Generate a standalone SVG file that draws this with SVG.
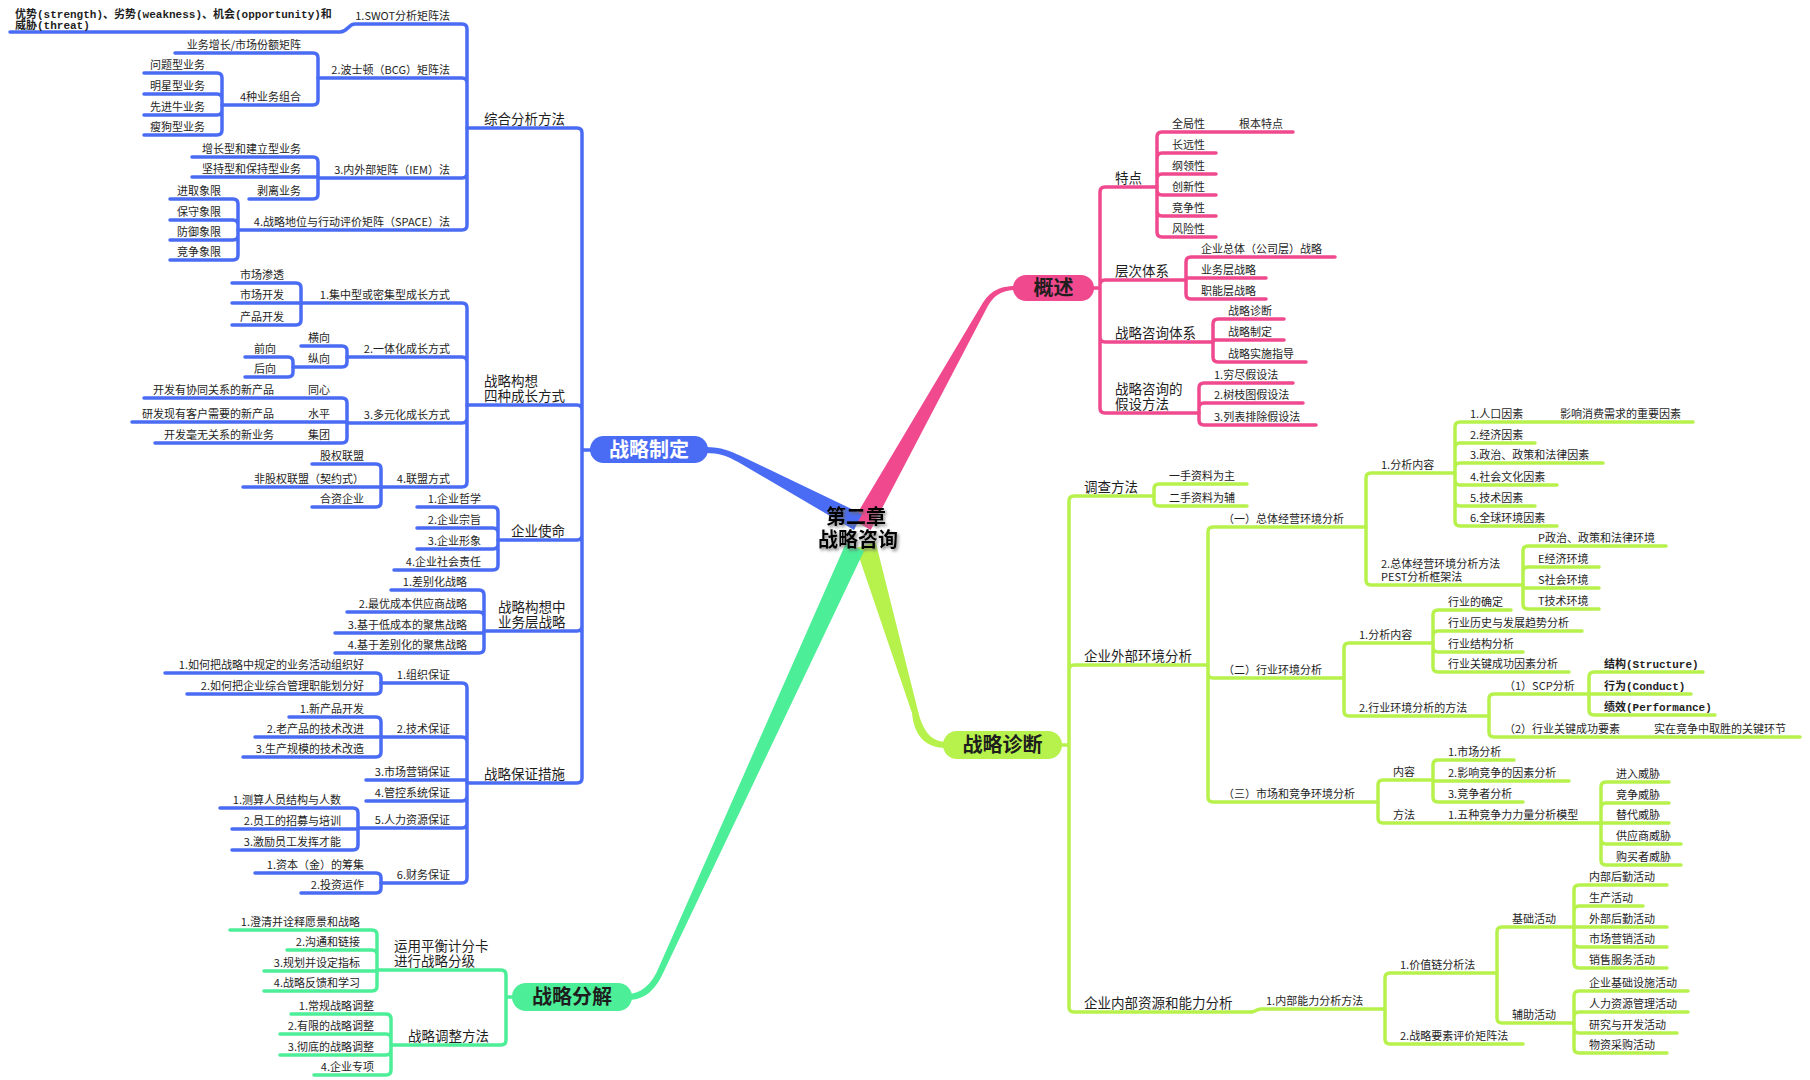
<svg xmlns="http://www.w3.org/2000/svg" width="1810" height="1080" viewBox="0 0 1810 1080">
<defs>
<style>
.b{fill:none;stroke:#4a6cf4;stroke-width:3.5;stroke-linecap:round;stroke-linejoin:round}
.p{fill:none;stroke:#f0498e;stroke-width:3.5;stroke-linecap:round;stroke-linejoin:round}
.l{fill:none;stroke:#b6f14c;stroke-width:3.5;stroke-linecap:round;stroke-linejoin:round}
.g{fill:none;stroke:#4cee98;stroke-width:3.5;stroke-linecap:round;stroke-linejoin:round}
text{font-family:"Noto Sans CJK SC","Noto Sans",sans-serif;fill:#1e1e1e;font-size:11px}
.t2{font-size:13.5px}
.r{text-anchor:end}
.hb{font-weight:bold;font-family:"Liberation Mono","Noto Sans CJK SC",monospace}
.pl{font-size:20px;font-weight:bold;text-anchor:middle}
.ct{font-size:20px;font-weight:bold;text-anchor:middle;fill:#000}
</style>
<filter id="sh" x="-20%" y="-40%" width="140%" height="180%">
<feDropShadow dx="1.5" dy="2" stdDeviation="1.5" flood-color="#666" flood-opacity="0.8"/>
</filter>
</defs>
<rect width="1810" height="1080" fill="#fff"/>
<g id="connectors">
<path fill="#f0498e" d="M1016 286 C998 286,990 292,982.4 303.5 L853.3 520.1 L870.7 529.9 L987.6 306.5 C993 297,1000 290,1016 290 Z"/>
<path fill="#4a6cf4" d="M705 447 C722 447,730 451,741 456 L862 514 L854 530 L738 462 C727 456,720 453,705 453 Z"/>
<path fill="#b6f14c" d="M856 548 L875.6 542 L918 711 C922 728,930 742,946 742 L946 748 C926 748,914 736,912 713 Z"/>
<path fill="#4cee98" d="M846 543 L864 551 L665 969 C656 990,645 1000,628 1000 L628 994 C640 994,652 985,659 967 Z"/>
<path class="b" d="M594,450 H582 M582,450 V133 Q582,128 577,128 H467 M582,450 V410 Q582,405 577,405 H467 M582,450 V535 Q582,540 577,540 H498 M582,450 V626 Q582,631 577,631 H484 M582,450 V778 Q582,783 577,783 H467"/>
<path class="b" d="M467,128 V29 Q467,24 462,24 H355 C348,24 348,32 340,32 H10 M467,128 V83 Q467,78 462,78 H318 M467,128 V173 Q467,178 462,178 H318 M467,128 V225 Q467,230 462,230 H238"/>
<path class="b" d="M318,78 V58 Q318,53 313,53 H175 M318,78 V100 Q318,105 313,105 H222"/>
<path class="b" d="M222,105 V78 Q222,73 217,73 H144 M222,105 V99 Q222,94 217,94 H144 M222,105 V110 Q222,115 217,115 H144 M222,105 V130 Q222,135 217,135 H144"/>
<path class="b" d="M318,178 V162 Q318,157 313,157 H192 M318,177 H192 M318,178 V194 Q318,199 313,199 H249"/>
<path class="b" d="M238,230 V204 Q238,199 233,199 H170 M238,230 V225 Q238,220 233,220 H170 M238,230 V235 Q238,240 233,240 H170 M238,230 V255 Q238,260 233,260 H170"/>
<path class="b" d="M467,405 V308 Q467,303 462,303 H301 M467,405 V362 Q467,357 462,357 H347 M467,405 V418 Q467,423 462,423 H347 M467,405 V482 Q467,487 462,487 H381"/>
<path class="b" d="M301,303 V288 Q301,283 296,283 H232 M301,303 H232 M301,303 V320 Q301,325 296,325 H232"/>
<path class="b" d="M347,357 V351 Q347,346 342,346 H301 M347,357 V362 Q347,367 342,367 H293"/>
<path class="b" d="M293,367 V362 Q293,357 288,357 H245 M293,367 V372 Q293,377 288,377 H245"/>
<path class="b" d="M347,423 V403 Q347,398 342,398 H144 M347,422 H132 M347,423 V438 Q347,443 342,443 H155"/>
<path class="b" d="M381,487 V469 Q381,464 376,464 H312 M381,487 H243 M381,487 V502 Q381,507 376,507 H312"/>
<path class="b" d="M498,540 V512 Q498,507 493,507 H417 M498,540 V533 Q498,528 493,528 H417 M498,540 V544 Q498,549 493,549 H417 M498,540 V565 Q498,570 493,570 H394"/>
<path class="b" d="M484,631 V595 Q484,590 479,590 H391 M484,631 V617 Q484,612 479,612 H347 M484,633 H335 M484,631 V648 Q484,653 479,653 H335"/>
<path class="b" d="M467,783 V688 Q467,683 462,683 H381 M467,783 V742 Q467,737 462,737 H381 M467,780 H366 M467,783 V796 Q467,801 462,801 H366 M467,783 V823 Q467,828 462,828 H358 M467,783 V878 Q467,883 462,883 H381"/>
<path class="b" d="M381,683 V678 Q381,673 376,673 H165 M381,683 V689 Q381,694 376,694 H187"/>
<path class="b" d="M381,737 V722 Q381,717 376,717 H289 M381,737 H255 M381,737 V752 Q381,757 376,757 H243"/>
<path class="b" d="M358,828 V813 Q358,808 353,808 H220 M358,829 H232 M358,828 V845 Q358,850 353,850 H232"/>
<path class="b" d="M381,883 V878 Q381,873 376,873 H255 M381,883 V888 Q381,893 376,893 H301"/>
<path class="g" d="M514,997 H506 M506,997 V975 Q506,970 501,970 H377 M506,997 V1040 Q506,1045 501,1045 H391"/>
<path class="g" d="M377,970 V935 Q377,930 372,930 H230 M377,970 V955 Q377,950 372,950 H287 M377,971 H264 M377,970 V986 Q377,991 372,991 H264"/>
<path class="g" d="M391,1045 V1019 Q391,1014 386,1014 H291 M391,1045 V1039 Q391,1034 386,1034 H280 M391,1045 V1050 Q391,1055 386,1055 H280 M391,1045 V1070 Q391,1075 386,1075 H314"/>
<path class="p" d="M1092,288 H1100 M1100,288 V192 Q1100,187 1105,187 H1157 M1100,288 V285 Q1100,280 1105,280 H1186 M1100,288 V337 Q1100,342 1105,342 H1213 M1100,288 V408 Q1100,413 1105,413 H1199"/>
<path class="p" d="M1157,187 V137 Q1157,132 1162,132 H1293 M1157,187 V158 Q1157,153 1162,153 H1216 M1157,187 V179 Q1157,174 1162,174 H1216 M1157,187 V190 Q1157,195 1162,195 H1216 M1157,187 V211 Q1157,216 1162,216 H1216 M1157,187 V232 Q1157,237 1162,237 H1216"/>
<path class="p" d="M1186,280 V262 Q1186,257 1191,257 H1335 M1186,278 H1266 M1186,280 V294 Q1186,299 1191,299 H1266"/>
<path class="p" d="M1213,342 V324 Q1213,319 1218,319 H1284 M1213,340 H1284 M1213,342 V357 Q1213,362 1218,362 H1306"/>
<path class="p" d="M1199,413 V388 Q1199,383 1204,383 H1293 M1199,413 V408 Q1199,403 1204,403 H1303 M1199,413 V420 Q1199,425 1204,425 H1316"/>
<path class="l" d="M1060,745 H1069 M1069,745 V501 Q1069,496 1074,496 H1154 M1069,745 V670 Q1069,665 1074,665 H1208 M1069,745 V1007 Q1069,1012 1074,1012 H1251"/>
<path class="l" d="M1154,496 V489 Q1154,484 1159,484 H1247 M1154,496 V501 Q1154,506 1159,506 H1247"/>
<path class="l" d="M1208,665 V532 Q1208,527 1213,527 H1366 M1208,665 V673 Q1208,678 1213,678 H1344 M1208,665 V797 Q1208,802 1213,802 H1378"/>
<path class="l" d="M1366,527 V478 Q1366,473 1371,473 H1455 M1366,527 V580 Q1366,585 1371,585 H1523"/>
<path class="l" d="M1455,473 V427 Q1455,422 1460,422 H1693 M1455,473 V448 Q1455,443 1460,443 H1535 M1455,473 V468 Q1455,463 1460,463 H1603 M1455,473 V480 Q1455,485 1460,485 H1557 M1455,473 V501 Q1455,506 1460,506 H1535 M1455,473 V521 Q1455,526 1460,526 H1557"/>
<path class="l" d="M1523,585 V551 Q1523,546 1528,546 H1666 M1523,585 V572 Q1523,567 1528,567 H1599 M1523,588 H1599 M1523,585 V604 Q1523,609 1528,609 H1599"/>
<path class="l" d="M1344,678 V648 Q1344,643 1349,643 H1433 M1344,678 V711 Q1344,716 1349,716 H1489"/>
<path class="l" d="M1433,643 V615 Q1433,610 1438,610 H1511 M1433,643 V636 Q1433,631 1438,631 H1582 M1433,643 V647 Q1433,652 1438,652 H1523 M1433,643 V667 Q1433,672 1438,672 H1569"/>
<path class="l" d="M1489,716 V699 Q1489,694 1494,694 H1589 M1489,716 V732 Q1489,737 1494,737 H1800"/>
<path class="l" d="M1589,694 V677 Q1589,672 1594,672 H1703 M1589,694 H1691 M1589,694 V710 Q1589,715 1594,715 H1715"/>
<path class="l" d="M1378,802 V785 Q1378,780 1383,780 H1433 M1378,802 V818 Q1378,823 1383,823 H1601"/>
<path class="l" d="M1433,780 V765 Q1433,760 1438,760 H1514 M1433,781 H1569 M1433,780 V797 Q1433,802 1438,802 H1523"/>
<path class="l" d="M1601,823 V787 Q1601,782 1606,782 H1669 M1601,823 V808 Q1601,803 1606,803 H1669 M1601,823 H1669 M1601,823 V839 Q1601,844 1606,844 H1681 M1601,823 V860 Q1601,865 1606,865 H1681"/>
<path class="l" d="M1251,1012 C1256,1012 1256,1009 1261,1009 H1385"/>
<path class="l" d="M1385,1009 V978 Q1385,973 1390,973 H1497 M1385,1009 V1039 Q1385,1044 1390,1044 H1523"/>
<path class="l" d="M1497,973 V932 Q1497,927 1502,927 H1574 M1497,973 V1018 Q1497,1023 1502,1023 H1574"/>
<path class="l" d="M1574,927 V890 Q1574,885 1579,885 H1667 M1574,927 V911 Q1574,906 1579,906 H1643 M1574,927 H1667 M1574,927 V942 Q1574,947 1579,947 H1667 M1574,927 V963 Q1574,968 1579,968 H1667"/>
<path class="l" d="M1574,1023 V996 Q1574,991 1579,991 H1688 M1574,1023 V1017 Q1574,1012 1579,1012 H1688 M1574,1023 V1028 Q1574,1033 1579,1033 H1677 M1574,1023 V1048 Q1574,1053 1579,1053 H1667"/>
</g>
<g id="root"><text class="ct" filter="url(#sh)" x="856" y="524">第二章<tspan x="858" dy="23">战略咨询</tspan></text></g>
<g id="gaishu"><rect x="1013" y="275" width="81" height="26" rx="13" fill="#f0498e"/><text class="pl" x="1053.5" y="295">概述</text></g>
<g id="zhiding"><rect x="590" y="436" width="118" height="27" rx="13.5" fill="#4a6cf4"/><text class="pl" x="649" y="457" style="fill:#fff">战略制定</text></g>
<g id="zhenduan"><rect x="943" y="731" width="119" height="28" rx="14" fill="#b6f14c"/><text class="pl" x="1002.5" y="752">战略诊断</text></g>
<g id="fenjie"><rect x="512" y="983" width="120" height="28" rx="14" fill="#4cee98"/><text class="pl" x="572" y="1004">战略分解</text></g>
<g id="b1"><text class="t2 r" x="565" y="124">综合分析方法</text></g>
<g id="b2"><text class="t2" x="484" y="386">战略构想<tspan x="484" dy="15">四种成长方式</tspan></text></g>
<g id="b3"><text class="t2 r" x="565" y="536">企业使命</text></g>
<g id="b4"><text class="t2" x="498" y="612">战略构想中<tspan x="498" dy="15">业务层战略</tspan></text></g>
<g id="b5"><text class="t2 r" x="565" y="779">战略保证措施</text></g>
<g id="b1-1"><text class="r" x="450" y="20">1.SWOT分析矩阵法</text></g>
<g id="b1-1-1"><text class="hb" x="15" y="18">优势(strength)、劣势(weakness)、机会(opportunity)和<tspan x="15" dy="11">威胁(threat)</tspan></text></g>
<g id="b1-2"><text class="r" x="450" y="74">2.波士顿（BCG）矩阵法</text></g>
<g id="b1-2-1"><text class="r" x="301" y="49">业务增长/市场份额矩阵</text></g>
<g id="b1-2-2"><text class="r" x="301" y="101">4种业务组合</text></g>
<g id="b1-2-2-1"><text class="r" x="205" y="69">问题型业务</text></g>
<g id="b1-2-2-2"><text class="r" x="205" y="90">明星型业务</text></g>
<g id="b1-2-2-3"><text class="r" x="205" y="111">先进牛业务</text></g>
<g id="b1-2-2-4"><text class="r" x="205" y="131">瘦狗型业务</text></g>
<g id="b1-3"><text class="r" x="450" y="174">3.内外部矩阵（IEM）法</text></g>
<g id="b1-3-1"><text class="r" x="301" y="153">增长型和建立型业务</text></g>
<g id="b1-3-2"><text class="r" x="301" y="173">坚持型和保持型业务</text></g>
<g id="b1-3-3"><text class="r" x="301" y="195">剥离业务</text></g>
<g id="b1-4"><text class="r" x="450" y="226">4.战略地位与行动评价矩阵（SPACE）法</text></g>
<g id="b1-4-1"><text class="r" x="221" y="195">进取象限</text></g>
<g id="b1-4-2"><text class="r" x="221" y="216">保守象限</text></g>
<g id="b1-4-3"><text class="r" x="221" y="236">防御象限</text></g>
<g id="b1-4-4"><text class="r" x="221" y="256">竞争象限</text></g>
<g id="b2-1"><text class="r" x="450" y="299">1.集中型或密集型成长方式</text></g>
<g id="b2-1-1"><text class="r" x="284" y="279">市场渗透</text></g>
<g id="b2-1-2"><text class="r" x="284" y="299">市场开发</text></g>
<g id="b2-1-3"><text class="r" x="284" y="321">产品开发</text></g>
<g id="b2-2"><text class="r" x="450" y="353">2.一体化成长方式</text></g>
<g id="b2-2-1"><text class="r" x="330" y="342">横向</text></g>
<g id="b2-2-2"><text class="r" x="330" y="363">纵向</text></g>
<g id="b2-2-2-1"><text class="r" x="276" y="353">前向</text></g>
<g id="b2-2-2-2"><text class="r" x="276" y="373">后向</text></g>
<g id="b2-3"><text class="r" x="450" y="419">3.多元化成长方式</text></g>
<g id="b2-3-1"><text class="r" x="330" y="394">同心</text><text class="r" x="274" y="394">开发有协同关系的新产品</text></g>
<g id="b2-3-2"><text class="r" x="330" y="418">水平</text><text class="r" x="274" y="418">研发现有客户需要的新产品</text></g>
<g id="b2-3-3"><text class="r" x="330" y="439">集团</text><text class="r" x="274" y="439">开发毫无关系的新业务</text></g>
<g id="b2-4"><text class="r" x="450" y="483">4.联盟方式</text></g>
<g id="b2-4-1"><text class="r" x="364" y="460">股权联盟</text></g>
<g id="b2-4-2"><text class="r" x="364" y="483">非股权联盟（契约式）</text></g>
<g id="b2-4-3"><text class="r" x="364" y="503">合资企业</text></g>
<g id="b3-1"><text class="r" x="481" y="503">1.企业哲学</text></g>
<g id="b3-2"><text class="r" x="481" y="524">2.企业宗旨</text></g>
<g id="b3-3"><text class="r" x="481" y="545">3.企业形象</text></g>
<g id="b3-4"><text class="r" x="481" y="566">4.企业社会责任</text></g>
<g id="b4-1"><text class="r" x="467" y="586">1.差别化战略</text></g>
<g id="b4-2"><text class="r" x="467" y="608">2.最优成本供应商战略</text></g>
<g id="b4-3"><text class="r" x="467" y="629">3.基于低成本的聚焦战略</text></g>
<g id="b4-4"><text class="r" x="467" y="649">4.基于差别化的聚焦战略</text></g>
<g id="b5-1"><text class="r" x="450" y="679">1.组织保证</text></g>
<g id="b5-1-1"><text class="r" x="364" y="669">1.如何把战略中规定的业务活动组织好</text></g>
<g id="b5-1-2"><text class="r" x="364" y="690">2.如何把企业综合管理职能划分好</text></g>
<g id="b5-2"><text class="r" x="450" y="733">2.技术保证</text></g>
<g id="b5-2-1"><text class="r" x="364" y="713">1.新产品开发</text></g>
<g id="b5-2-2"><text class="r" x="364" y="733">2.老产品的技术改进</text></g>
<g id="b5-2-3"><text class="r" x="364" y="753">3.生产规模的技术改造</text></g>
<g id="b5-3"><text class="r" x="450" y="776">3.市场营销保证</text></g>
<g id="b5-4"><text class="r" x="450" y="797">4.管控系统保证</text></g>
<g id="b5-5"><text class="r" x="450" y="824">5.人力资源保证</text></g>
<g id="b5-5-1"><text class="r" x="341" y="804">1.测算人员结构与人数</text></g>
<g id="b5-5-2"><text class="r" x="341" y="825">2.员工的招募与培训</text></g>
<g id="b5-5-3"><text class="r" x="341" y="846">3.激励员工发挥才能</text></g>
<g id="b5-6"><text class="r" x="450" y="879">6.财务保证</text></g>
<g id="b5-6-1"><text class="r" x="364" y="869">1.资本（金）的筹集</text></g>
<g id="b5-6-2"><text class="r" x="364" y="889">2.投资运作</text></g>
<g id="g1"><text class="t2" x="394" y="951">运用平衡计分卡<tspan x="394" dy="15">进行战略分级</tspan></text></g>
<g id="g1-1"><text class="r" x="360" y="926">1.澄清并诠释愿景和战略</text></g>
<g id="g1-2"><text class="r" x="360" y="946">2.沟通和链接</text></g>
<g id="g1-3"><text class="r" x="360" y="967">3.规划并设定指标</text></g>
<g id="g1-4"><text class="r" x="360" y="987">4.战略反馈和学习</text></g>
<g id="g2"><text class="t2 r" x="489" y="1041">战略调整方法</text></g>
<g id="g2-1"><text class="r" x="374" y="1010">1.常规战略调整</text></g>
<g id="g2-2"><text class="r" x="374" y="1030">2.有限的战略调整</text></g>
<g id="g2-3"><text class="r" x="374" y="1051">3.彻底的战略调整</text></g>
<g id="g2-4"><text class="r" x="374" y="1071">4.企业专项</text></g>
<g id="p1"><text class="t2" x="1115" y="183">特点</text></g>
<g id="p1-1"><text x="1172" y="128">全局性</text><text x="1239" y="128">根本特点</text></g>
<g id="p1-2"><text x="1172" y="149">长远性</text></g>
<g id="p1-3"><text x="1172" y="170">纲领性</text></g>
<g id="p1-4"><text x="1172" y="191">创新性</text></g>
<g id="p1-5"><text x="1172" y="212">竞争性</text></g>
<g id="p1-6"><text x="1172" y="233">风险性</text></g>
<g id="p2"><text class="t2" x="1115" y="276">层次体系</text></g>
<g id="p2-1"><text x="1201" y="253">企业总体（公司层）战略</text></g>
<g id="p2-2"><text x="1201" y="274">业务层战略</text></g>
<g id="p2-3"><text x="1201" y="295">职能层战略</text></g>
<g id="p3"><text class="t2" x="1115" y="338">战略咨询体系</text></g>
<g id="p3-1"><text x="1228" y="315">战略诊断</text></g>
<g id="p3-2"><text x="1228" y="336">战略制定</text></g>
<g id="p3-3"><text x="1228" y="358">战略实施指导</text></g>
<g id="p4"><text class="t2" x="1115" y="394">战略咨询的<tspan x="1115" dy="15">假设方法</tspan></text></g>
<g id="p4-1"><text x="1214" y="379">1.穷尽假设法</text></g>
<g id="p4-2"><text x="1214" y="399">2.树枝图假设法</text></g>
<g id="p4-3"><text x="1214" y="421">3.列表排除假设法</text></g>
<g id="l1"><text class="t2" x="1084" y="492">调查方法</text></g>
<g id="l1-1"><text x="1169" y="480">一手资料为主</text></g>
<g id="l1-2"><text x="1169" y="502">二手资料为辅</text></g>
<g id="l2"><text class="t2" x="1084" y="661">企业外部环境分析</text></g>
<g id="l2-1"><text x="1223" y="523">（一）总体经营环境分析</text></g>
<g id="l2-1-1"><text x="1381" y="469">1.分析内容</text></g>
<g id="l2-1-1-1"><text x="1470" y="418">1.人口因素</text><text x="1560" y="418">影响消费需求的重要因素</text></g>
<g id="l2-1-1-2"><text x="1470" y="439">2.经济因素</text></g>
<g id="l2-1-1-3"><text x="1470" y="459">3.政治、政策和法律因素</text></g>
<g id="l2-1-1-4"><text x="1470" y="481">4.社会文化因素</text></g>
<g id="l2-1-1-5"><text x="1470" y="502">5.技术因素</text></g>
<g id="l2-1-1-6"><text x="1470" y="522">6.全球环境因素</text></g>
<g id="l2-1-2"><text x="1381" y="568">2.总体经营环境分析方法<tspan x="1381" dy="13">PEST分析框架法</tspan></text></g>
<g id="l2-1-2-1"><text x="1538" y="542">P政治、政策和法律环境</text></g>
<g id="l2-1-2-2"><text x="1538" y="563">E经济环境</text></g>
<g id="l2-1-2-3"><text x="1538" y="584">S社会环境</text></g>
<g id="l2-1-2-4"><text x="1538" y="605">T技术环境</text></g>
<g id="l2-2"><text x="1223" y="674">（二）行业环境分析</text></g>
<g id="l2-2-1"><text x="1359" y="639">1.分析内容</text></g>
<g id="l2-2-1-1"><text x="1448" y="606">行业的确定</text></g>
<g id="l2-2-1-2"><text x="1448" y="627">行业历史与发展趋势分析</text></g>
<g id="l2-2-1-3"><text x="1448" y="648">行业结构分析</text></g>
<g id="l2-2-1-4"><text x="1448" y="668">行业关键成功因素分析</text></g>
<g id="l2-2-2"><text x="1359" y="712">2.行业环境分析的方法</text></g>
<g id="l2-2-2-1"><text x="1504" y="690">（1）SCP分析</text></g>
<g id="l2-2-2-1-1"><text class="hb" x="1604" y="668">结构(Structure)</text></g>
<g id="l2-2-2-1-2"><text class="hb" x="1604" y="690">行为(Conduct)</text></g>
<g id="l2-2-2-1-3"><text class="hb" x="1604" y="711">绩效(Performance)</text></g>
<g id="l2-2-2-2"><text x="1504" y="733">（2）行业关键成功要素</text><text x="1654" y="733">实在竞争中取胜的关键环节</text></g>
<g id="l2-3"><text x="1223" y="798">（三）市场和竞争环境分析</text></g>
<g id="l2-3-1"><text x="1393" y="776">内容</text></g>
<g id="l2-3-1-1"><text x="1448" y="756">1.市场分析</text></g>
<g id="l2-3-1-2"><text x="1448" y="777">2.影响竞争的因素分析</text></g>
<g id="l2-3-1-3"><text x="1448" y="798">3.竞争者分析</text></g>
<g id="l2-3-2"><text x="1393" y="819">方法</text><text x="1448" y="819">1.五种竞争力力量分析模型</text></g>
<g id="l2-3-2-1"><text x="1616" y="778">进入威胁</text></g>
<g id="l2-3-2-2"><text x="1616" y="799">竞争威胁</text></g>
<g id="l2-3-2-3"><text x="1616" y="819">替代威胁</text></g>
<g id="l2-3-2-4"><text x="1616" y="840">供应商威胁</text></g>
<g id="l2-3-2-5"><text x="1616" y="861">购买者威胁</text></g>
<g id="l3"><text class="t2" x="1084" y="1008">企业内部资源和能力分析</text></g>
<g id="l3-1"><text x="1266" y="1005">1.内部能力分析方法</text></g>
<g id="l3-1-1"><text x="1400" y="969">1.价值链分析法</text></g>
<g id="l3-1-1-1"><text x="1512" y="923">基础活动</text></g>
<g id="l3-1-1-1-1"><text x="1589" y="881">内部后勤活动</text></g>
<g id="l3-1-1-1-2"><text x="1589" y="902">生产活动</text></g>
<g id="l3-1-1-1-3"><text x="1589" y="923">外部后勤活动</text></g>
<g id="l3-1-1-1-4"><text x="1589" y="943">市场营销活动</text></g>
<g id="l3-1-1-1-5"><text x="1589" y="964">销售服务活动</text></g>
<g id="l3-1-1-2"><text x="1512" y="1019">辅助活动</text></g>
<g id="l3-1-1-2-1"><text x="1589" y="987">企业基础设施活动</text></g>
<g id="l3-1-1-2-2"><text x="1589" y="1008">人力资源管理活动</text></g>
<g id="l3-1-1-2-3"><text x="1589" y="1029">研究与开发活动</text></g>
<g id="l3-1-1-2-4"><text x="1589" y="1049">物资采购活动</text></g>
<g id="l3-1-2"><text x="1400" y="1040">2.战略要素评价矩阵法</text></g>
</svg>
